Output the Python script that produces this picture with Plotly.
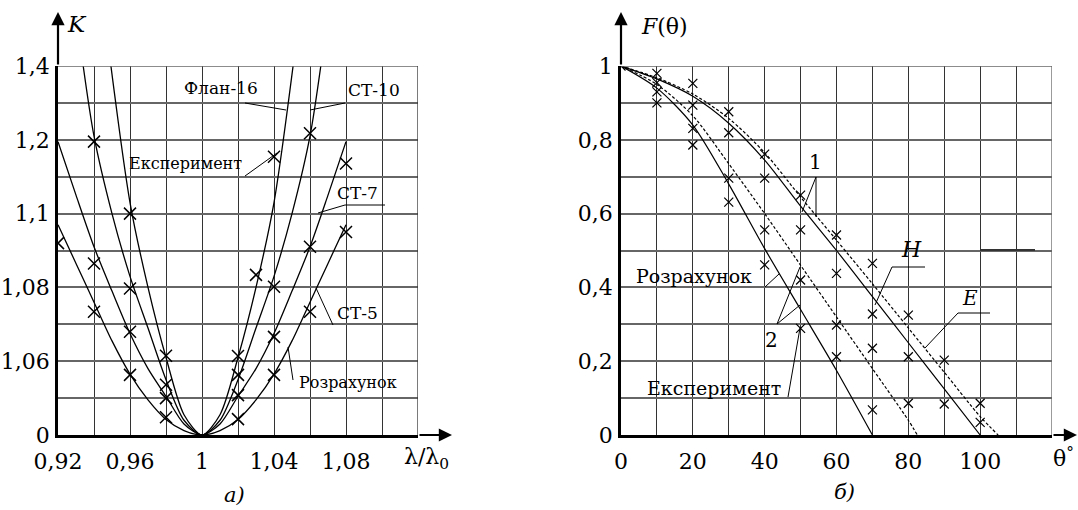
import plotly.graph_objects as go

W, H = 1078, 510
FONT = "DejaVu Serif"

# ---------------- Panel a) : K vs lambda/lambda0 ----------------
lam_ticks = [0.92, 0.94, 0.96, 0.98, 1.00, 1.02, 1.04, 1.06, 1.08, 1.10, 1.12]
lam_ticktext = ["0,92", "", "0,96", "", "1", "", "1,04", "", "1,08", "", ""]
k_ticks = [0, 1, 2, 3, 4, 5, 6, 7, 8, 9, 10]          # grid rows of the broken K scale
k_ticktext = ["0", "", "1,06", "", "1,08", "", "1,1", "", "1,2", "", "1,4"]

lam_grid = [0.92, 0.93, 0.94, 0.95, 0.96, 0.97, 0.98, 0.99, 1.00,
            1.01, 1.02, 1.03, 1.04, 1.05, 1.06, 1.07, 1.08]
st5_k = [5.7, 4.65, 3.6, 2.55, 1.65, 0.95, 0.42, 0.12, 0.0,
         0.12, 0.42, 0.95, 1.65, 2.55, 3.6, 4.65, 5.7]
st7_k = [7.95, 6.5, 5.1, 3.9, 2.75, 1.8, 1.05, 0.3, 0.0,
         0.3, 1.05, 1.8, 2.75, 3.9, 5.1, 6.5, 7.95]
st10_lam = [0.934, 0.94, 0.95, 0.96, 0.97, 0.98, 0.99, 1.00,
            1.01, 1.02, 1.03, 1.04, 1.05, 1.06, 1.066]
st10_k = [10.0, 8.1, 6.0, 4.3, 2.9, 1.5, 0.4, 0.0,
          0.4, 1.5, 2.9, 4.3, 6.0, 8.1, 10.0]
flan16_lam = [0.9494, 0.96, 0.97, 0.98, 0.99, 1.00, 1.01, 1.02, 1.03, 1.04, 1.0506]
flan16_k = [10.0, 6.3, 4.0, 2.1, 0.55, 0.0, 0.55, 2.1, 4.0, 6.3, 10.0]

exp_lam = [0.92, 0.94, 0.94, 0.94, 0.96, 0.96, 0.96, 0.96,
           0.98, 0.98, 0.98, 0.98, 1.02, 1.02, 1.02, 1.02, 1.03,
           1.04, 1.04, 1.04, 1.04, 1.06, 1.06, 1.06, 1.08, 1.08]
exp_k = [5.2, 7.95, 4.65, 3.34, 6.0, 3.97, 2.8, 1.63,
         2.15, 1.36, 1.0, 0.48, 2.14, 1.63, 1.08, 0.43, 4.34,
         7.54, 4.02, 2.66, 1.63, 8.18, 5.1, 3.34, 7.36, 5.5]

# ---------------- Panel b) : F(theta) ----------------
th_ticks = [0, 10, 20, 30, 40, 50, 60, 70, 80, 90, 100, 110, 120]
th_ticktext = ["0", "", "20", "", "40", "", "60", "", "80", "", "100", "", ""]
f_ticks = [0, 0.1, 0.2, 0.3, 0.4, 0.5, 0.6, 0.7, 0.8, 0.9, 1.0]
f_ticktext = ["0", "", "0,2", "", "0,4", "", "0,6", "", "0,8", "", "1"]

h1_th = [0, 10, 20, 30, 40, 50, 60, 70, 80, 90, 100]
h1_f = [1.0, 0.965, 0.918, 0.845, 0.745, 0.62, 0.5, 0.375, 0.25, 0.125, 0.0]
e1_th = [0, 10, 20, 30, 40, 50, 60, 70, 80, 90, 100, 105]
e1_f = [1.0, 0.968, 0.924, 0.858, 0.765, 0.645, 0.528, 0.41, 0.29, 0.17, 0.05, 0.0]
h2_th = [0, 10, 20, 30, 40, 50, 60, 70]
h2_f = [1.0, 0.94, 0.84, 0.68, 0.505, 0.34, 0.175, 0.0]
e2_th = [0, 10, 20, 30, 40, 50, 60, 70, 80, 82.5]
e2_f = [1.0, 0.95, 0.865, 0.735, 0.6, 0.46, 0.32, 0.18, 0.04, 0.0]

exp_th = [0, 10, 10, 10, 10, 20, 20, 20, 20, 30, 30, 30, 30,
          40, 40, 40, 40, 50, 50, 50, 50, 60, 60, 60, 60,
          70, 70, 70, 70, 80, 80, 80, 90, 90, 100, 100]
exp_f = [1.0, 0.98, 0.955, 0.93, 0.90, 0.953, 0.894, 0.831, 0.786,
         0.876, 0.819, 0.696, 0.631, 0.761, 0.696, 0.556, 0.461,
         0.65, 0.556, 0.42, 0.289, 0.542, 0.438, 0.298, 0.212,
         0.465, 0.328, 0.235, 0.068, 0.325, 0.212, 0.086, 0.203, 0.084,
         0.086, 0.034]


def px(x):
    return x / W


def py(y):
    return 1 - y / H


fig = go.Figure()

line_a = dict(color="black", width=1.3, shape="spline", smoothing=0.8)
for xs, ys, nm in [(lam_grid, st5_k, "СТ-5"), (lam_grid, st7_k, "СТ-7"),
                   (st10_lam, st10_k, "СТ-10"), (flan16_lam, flan16_k, "Флан-16")]:
    fig.add_trace(go.Scatter(x=xs, y=ys, mode="lines", line=line_a, name=nm,
                             xaxis="x", yaxis="y", showlegend=False))
fig.add_trace(go.Scatter(x=exp_lam, y=exp_k, mode="markers", xaxis="x", yaxis="y",
                         marker=dict(symbol="x-thin", size=12,
                                     line=dict(color="black", width=1.5)),
                         showlegend=False))

for xs, ys, dash in [(h1_th, h1_f, "solid"), (e1_th, e1_f, "3px,2px"),
                     (h2_th, h2_f, "solid"), (e2_th, e2_f, "3px,2px")]:
    fig.add_trace(go.Scatter(x=xs, y=ys, mode="lines", xaxis="x2", yaxis="y2",
                             line=dict(color="black", width=1.2, dash=dash,
                                       shape="spline", smoothing=0.8),
                             showlegend=False))
fig.add_trace(go.Scatter(x=exp_th, y=exp_f, mode="markers", xaxis="x2", yaxis="y2",
                         marker=dict(symbol="x-thin", size=9,
                                     line=dict(color="black", width=1.2)),
                         showlegend=False))

ydom = [py(435), py(66)]
tickfont = dict(family=FONT, size=22, color="black")
common_x = dict(showgrid=True, gridcolor="#333333", gridwidth=1.3, showline=True,
                linecolor="black", linewidth=2.5, zeroline=False, tickmode="array",
                ticks="outside", ticklen=5, tickcolor="rgba(0,0,0,0)", tickfont=tickfont,
                automargin=False)
common_y = dict(showgrid=True, gridcolor="#666666", gridwidth=1.6, showline=True,
                linecolor="black", linewidth=2.5, zeroline=False, tickmode="array",
                ticks="outside", ticklen=1, tickcolor="rgba(0,0,0,0)", tickfont=tickfont,
                automargin=False)

fig.update_layout(
    template="none",
    width=W, height=H, margin=dict(l=0, r=0, t=0, b=0, pad=0), autosize=False,
    paper_bgcolor="white", plot_bgcolor="white", showlegend=False,
    xaxis=dict(domain=[px(58), px(418)], range=[0.92, 1.12], anchor="y",
               tickvals=lam_ticks, ticktext=lam_ticktext, **common_x),
    yaxis=dict(domain=ydom, range=[0, 10], anchor="x",
               tickvals=k_ticks, ticktext=k_ticktext, **common_y),
    xaxis2=dict(domain=[px(621), px(1052)], range=[0, 120], anchor="y2",
                tickvals=th_ticks, ticktext=th_ticktext, **common_x),
    yaxis2=dict(domain=ydom, range=[0, 1], anchor="x2",
                tickvals=f_ticks, ticktext=f_ticktext, **common_y),
)

shapes = []
# frame edges that plotly drops as edge gridlines
shapes.append(dict(type="line", xref="x domain", yref="y", x0=0, x1=1, y0=10, y1=10,
                   line=dict(color="#666666", width=1.6)))
shapes.append(dict(type="line", xref="x", yref="y domain", x0=1.12, x1=1.12, y0=0, y1=1,
                   line=dict(color="#333333", width=1.3)))
shapes.append(dict(type="line", xref="x2 domain", yref="y2", x0=0, x1=1, y0=1, y1=1,
                   line=dict(color="#666666", width=1.6)))
shapes.append(dict(type="line", xref="x2", yref="y2 domain", x0=120, x1=120, y0=0, y1=1,
                   line=dict(color="#666666", width=1.3)))

leaders = [
    # panel a
    (245, 103, 286, 110), (345, 103, 310, 110), (245, 176, 277, 153),
    (345, 205, 385, 205), (345, 205, 318, 213), (333, 325, 316, 288),
    (293, 380, 288, 347),
    # panel b
    (816, 177, 802, 212), (816, 177, 816, 217),
    (892, 267, 925, 267), (892, 267, 875, 305),
    (958, 313, 990, 313), (958, 313, 925, 348),
    (765, 287, 779, 274),
    (777, 324, 800, 267), (777, 324, 800, 305),
    (788, 397, 800, 328),
]
for x0, y0, x1, y1 in leaders:
    shapes.append(dict(type="line", xref="paper", yref="paper",
                       x0=px(x0), y0=py(y0), x1=px(x1), y1=py(y1),
                       line=dict(color="black", width=1)))
shapes.append(dict(type="line", xref="paper", yref="paper",
                   x0=px(980), y0=py(250), x1=px(1035), y1=py(250),
                   line=dict(color="#333333", width=2.2)))
fig.update_layout(shapes=shapes)

ann = []
# axis arrows
for tx, ty, ax, ay in [(58, 12, 0, 54), (452, 435, -34, 0), (621, 12, 0, 54), (1077, 435, -25, 0)]:
    ann.append(dict(x=px(tx), y=py(ty), xref="paper", yref="paper", text="",
                    showarrow=True, ax=ax, ay=ay, axref="pixel", ayref="pixel",
                    arrowhead=2, arrowsize=1.2, arrowwidth=2.2, arrowcolor="black",
                    standoff=0))


def label(text, x, y, size, italic=False):
    if italic:
        text = "<i>" + text + "</i>"
    ann.append(dict(x=px(x), y=py(y), xref="paper", yref="paper", text=text,
                    showarrow=False, xanchor="center", yanchor="middle",
                    font=dict(family=FONT, size=size, color="black")))


label("K", 77, 24, 23, italic=True)
label("λ/λ<sub>0</sub>", 426, 458, 22)
label("<i>F</i>(θ)", 664, 26, 22)
label("θ<sup>°</sup>", 1063, 457, 22)
label("а)", 234, 495, 21, italic=True)
label("б)", 844, 492, 21, italic=True)

label("Флан-16", 221, 88, 17)
label("СТ-10", 374, 90, 17)
label("Експеримент", 185, 163, 16)
label("СТ-7", 357, 193, 17)
label("СТ-5", 357, 313, 17)
label("Розрахунок", 348, 382, 16)

label("1", 815, 162, 20)
label("H", 911, 249, 22, italic=True)
label("E", 970, 298, 20, italic=True)
label("Розрахунок", 694, 276, 19)
label("2", 771, 340, 20)
label("Експеримент", 714, 388, 19)

fig.update_layout(annotations=ann, font=dict(family=FONT, color="black"))

fig.write_html("out.html", config={"displayModeBar": False},
               post_script="document.body.style.margin='0px';")
